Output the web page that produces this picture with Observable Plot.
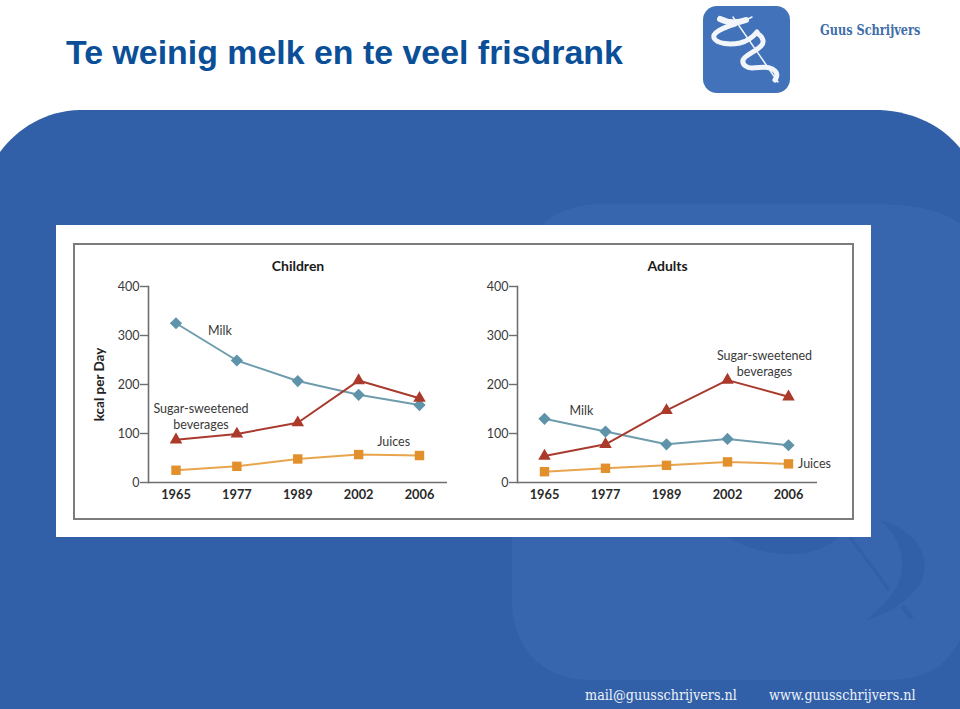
<!DOCTYPE html>
<html lang="nl">
<head>
<meta charset="utf-8">
<script src="https://cdn.jsdelivr.net/npm/d3@7"></script>
<script src="https://cdn.jsdelivr.net/npm/@observablehq/plot@0.6"></script>
<style>
html,body{margin:0;padding:0;background:#fff;width:960px;height:709px;overflow:hidden}
#stage{position:relative;width:960px;height:709px;overflow:hidden}
#decor{position:absolute;left:0;top:0}
h1{position:absolute;left:66px;top:32px;margin:0;font:bold 33.9px "Liberation Sans",Arial,sans-serif;color:#0b4f98;white-space:nowrap;line-height:40px}
#panel{position:absolute;left:56px;top:225px;width:815px;height:312px;background:#fff}
#frame{position:absolute;left:73px;top:243px;width:777px;height:273px;border:2px solid #7a7c7e}
.chart{position:absolute;top:230px}
#children{left:60px}
#adults{left:460px}
.brand{position:absolute;left:820px;top:22px;font:bold 14px "DejaVu Serif",serif;color:#3f6ea9;transform:scaleX(.81);transform-origin:left center;white-space:nowrap}
.foot{position:absolute;top:686px;font:15.5px "DejaVu Serif",serif;color:#eef2f8;transform:scaleX(.825);transform-origin:left center;white-space:nowrap}
</style>
</head>
<body>
<div id="stage">
<svg id="decor" width="960" height="709" viewBox="0 0 960 709">
  <path fill="#3160a8" d="M0,152C18,128 45,111 80,110L880,110C915,112 942,126 960,148L960,709L0,709Z"/>
  <path fill="#3766ae" d="M600,204L880,204C920,205 945,212 960,224L960,640C945,668 925,680 885,680L590,680C540,680 512,645 512,600L512,290C512,240 550,204 600,204Z"/>
  <path fill="#3160a8" d="M728,537C760,558 815,562 838,537Z"/>
  <path fill="none" stroke="#3160a8" stroke-width="3" d="M850,537L889,590"/>
  <path fill="none" stroke="#3160a8" stroke-width="5" d="M902,606L912,618"/>
  <path fill="#3160a8" d="M880,520C915,530 932,555 922,580C912,600 885,616 866,620C885,605 905,585 902,560C900,540 890,530 880,520Z"/>
  <rect x="703" y="6" width="87" height="87" rx="14" fill="#4273ba"/>
  <g fill="none" stroke="#f2f5fa" stroke-linecap="round">
    <path stroke-width="1.5" d="M733,17L778,82"/>
    <path stroke-width="6" d="M720,19C728,23 738,23 746,20"/>
    <path stroke-width="1.5" d="M746,20L752,17"/>
    <path stroke-width="5" d="M735,24C722,28 712,33 714,38C717,44 730,45 740,43C748,41 753,37 757,32"/>
    <path stroke-width="5" d="M757,33C763,37 765,42 761,46C755,52 745,55 743,60C742,65 747,68 752,68C759,68 765,66 770,68C776,70 779,74 775,80"/>
  </g>
</svg>
<h1>Te weinig melk en te veel frisdrank</h1>
<div class="brand">Guus Schrijvers</div>
<div id="panel"></div>
<div id="frame"></div>
<div class="chart" id="children"></div>
<div class="chart" id="adults"></div>
<div class="foot" style="left:585px">mail@guusschrijvers.nl</div>
<div class="foot" style="left:769px">www.guusschrijvers.nl</div>
</div>
<script>
const years = ["1965","1977","1989","2002","2006"];
const yTicks = [0,100,200,300,400];
const childrenMilk = [325,249,207,179,158];
const childrenSugar = [87,99,122,208,172];
const childrenJuices = [25,33,48,57,55];
const adultsMilk = [130,104,78,89,76];
const adultsSugar = [54,78,147,209,175];
const adultsJuices = [22,29,35,42,38];
const seriesStyles = [
  {name:"Milk", line:"#6f9cad", fill:"#5f93aa", symbol:"diamond2", r:5.5},
  {name:"Sugar-sweetened beverages", line:"#a93b2e", fill:"#ab3a2b", symbol:"triangle2", r:6},
  {name:"Juices", line:"#e9a44e", fill:"#e2902c", symbol:"square2", r:6}
];
const childrenLabels = [
  {year:"1977", value:310, dx:-17, text:"Milk"},
  {year:"1965", value:150, dx:25, text:"Sugar-sweetened"},
  {year:"1965", value:118, dx:25, text:"beverages"},
  {year:"2002", value:82, dx:35, text:"Juices"}
];
const adultsLabels = [
  {year:"1965", value:146, dx:37, text:"Milk"},
  {year:"2002", value:258, dx:37, text:"Sugar-sweetened"},
  {year:"2002", value:226, dx:37, text:"beverages"},
  {year:"2006", value:38, dx:26, text:"Juices"}
];
const font = "Lato, 'Open Sans', sans-serif";
const axisColor = "#6c6e70";

function panel(title, yLabel, milk, sugar, juices, labels, xRange, marginLeft, marginRight){
  const data = [milk, sugar, juices].flatMap((vals,i)=>
    vals.map((v,j)=>({year:years[j], value:v, series:seriesStyles[i].name})));
  const marks = [
    Plot.frame({anchor:"left", stroke:axisColor, strokeWidth:1.6}),
    Plot.ruleY([0],{stroke:axisColor, strokeWidth:1.6}),
    Plot.axisY({ticks:yTicks, tickSize:8, tickPadding:1, label:null, stroke:axisColor, strokeWidth:1.4,
      fontSize:12.5, fill:"#3a3a3a", tickFormat:d=>String(d)}),
    Plot.axisX({tickSize:0, tickPadding:7, label:null, fontSize:12.8, fontWeight:"bold", fill:"#2a2a2a"}),
    ...seriesStyles.map(s=>Plot.line(data.filter(d=>d.series===s.name),
      {x:"year", y:"value", stroke:s.line, strokeWidth:2})),
    ...seriesStyles.map(s=>Plot.dot(data.filter(d=>d.series===s.name),
      {x:"year", y:"value", symbol:()=>s.symbol, fill:s.fill, stroke:"none", r:s.r})),
    ...labels.map(l=>Plot.text([l],{x:"year", y:"value", dx:l.dx, text:"text",
      fontSize:12.5, fill:"#3a3a3a"})),
    Plot.text([title],{frameAnchor:"top", dy:-25, fontSize:14, fontWeight:"bold", fill:"#1a1a1a"})
  ];
  if (yLabel) marks.push(Plot.text([yLabel],{frameAnchor:"left", textAnchor:"middle", dx:-49, rotate:-90,
    fontSize:13.5, fontWeight:"bold", fill:"#222"}));
  return Plot.plot({
    width:410, height:300, marginLeft, marginRight, marginTop:56, marginBottom:48,
    style:{background:"transparent", fontFamily:font},
    x:{type:"point", domain:years, range:xRange, padding:0, round:false},
    y:{domain:[0,400], range:[252,56]},
    marks
  });
}
document.getElementById("children").append(
  panel("Children","kcal per Day",childrenMilk,childrenSugar,childrenJuices,childrenLabels,[115.5,359],88,23));
document.getElementById("adults").append(
  panel("Adults",null,adultsMilk,adultsSugar,adultsJuices,adultsLabels,[84,328],57,53));
</script>
</body>
</html>
